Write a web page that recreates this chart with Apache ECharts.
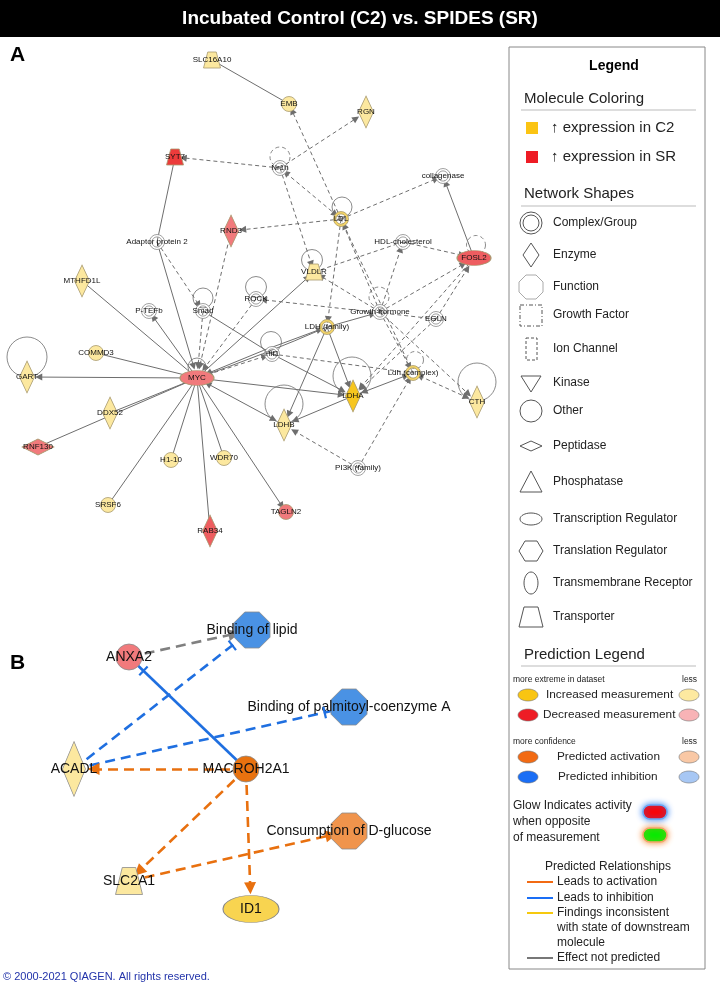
<!DOCTYPE html>
<html><head><meta charset="utf-8">
<script src="https://cdn.jsdelivr.net/npm/echarts@6/dist/echarts.min.js"></script>
<style>html,body{margin:0;padding:0;background:#fff}#c{width:720px;height:991px}</style>
</head><body><div id="c"></div>
<script>
// ---------------- DATA ----------------
const titleText = 'Incubated Control (C2) vs. SPIDES (SR)';
// Panel A nodes
const nodesA = ['SLC16A10','EMB','RGN','SYT7','Nr1h','collagenase','LDL','RND3','Adaptor protein 2','HDL-cholesterol','FOSL2','MTHFD1L','VLDLR','ROCK','P-TEFb','Smad','Growth hormone','EGLN','LDH (family)','Hif1','COMMD3','GART','MYC','Ldh (complex)','LDHA','CTH','DDX52','LDHB','RNF130','H1-10','WDR70','PI3K (family)','SRSF6','TAGLN2','RAB34'];
const nodesAX = [212,289,366,175,280,443,341,231,157,403,474,82,314,256,149,203,380,436,327,272,96,27,197,413,353,477,110,284,38,171,224,358,108,286,210];
const nodesAY = [60,104,112,157,168,176,219,231,242,242,258,281,272,299,311,311,312,319,327,354,353,377,378,373,396,402,413,425,447,460,458,468,505,512,531];
const nodesAType = ['transporter','other','enzyme','transporter','complex','complex','complex','enzyme','complex','complex','tr','enzyme','transporter','complex','complex','complex','complex','complex','complex','complex','other','enzyme','tr','complex','enzyme','enzyme','enzyme','enzyme','peptidase','other','other','complex','other','other','enzyme'];
const nodesALevel = ['up1','up1','up1','dn3','none','none','up2','dn1','none','none','dn2','up1','up1','none','none','none','none','none','up2','none','up1','up1','dn1','up2','up3','up1','up1','up1','dn1','up1','up1','none','up1','dn1','dn2'];
// Panel A edges: [source, target, dashed?, arrow (0 none, 1 at target, 2 both)]
const edgesA = [
 ['SLC16A10','EMB',0,0],['LDL','EMB',1,1],['Nr1h','RGN',1,1],['Nr1h','SYT7',1,1],['Nr1h','LDL',1,2],
 ['LDL','collagenase',1,1],['LDL','RND3',1,1],['FOSL2','collagenase',0,1],['SYT7','Adaptor protein 2',0,0],
 ['Nr1h','VLDLR',1,1],['LDL','LDH (family)',1,1],['Ldh (complex)','LDL',1,1],['Growth hormone','LDL',1,0],
 ['Adaptor protein 2','MYC',0,1],['Adaptor protein 2','Smad',1,1],['Smad','MYC',1,1],['RND3','MYC',1,1],['ROCK','MYC',1,1],
 ['MYC','MTHFD1L',0,0],['MYC','P-TEFb',0,1],['MYC','VLDLR',0,1],['Smad','Hif1',0,0],['Hif1','MYC',1,2],
 ['MYC','LDH (family)',0,2],['LDH (family)','MYC',0,0],['MYC','LDHA',0,1],['MYC','LDHB',0,2],['MYC','GART',0,1],
 ['COMMD3','MYC',0,0],['MYC','DDX52',0,0],['MYC','RNF130',0,0],['MYC','H1-10',0,0],['MYC','WDR70',0,0],
 ['MYC','SRSF6',0,0],['MYC','RAB34',0,0],['MYC','TAGLN2',0,1],
 ['EGLN','ROCK',1,1],['Growth hormone','VLDLR',1,1],['VLDLR','HDL-cholesterol',1,0],['HDL-cholesterol','FOSL2',1,1],
 ['Growth hormone','HDL-cholesterol',1,1],['Growth hormone','FOSL2',1,1],['EGLN','FOSL2',1,1],['EGLN','LDHA',1,1],
 ['LDH (family)','Growth hormone',0,1],['LDH (family)','LDHA',0,1],['LDH (family)','LDHB',0,1],['Hif1','LDHA',0,1],
 ['Hif1','Ldh (complex)',1,0],['LDHA','LDHB',0,1],['LDHA','Ldh (complex)',0,2],['PI3K (family)','LDHB',1,1],
 ['PI3K (family)','Ldh (complex)',1,1],['Growth hormone','Ldh (complex)',1,1],['Ldh (complex)','CTH',1,2],
 ['Growth hormone','CTH',1,1],['FOSL2','LDHA',1,1]
];
// Self loops: [node, diameter, offsetX, offsetY, dashed]
const loopsA = [
 ['GART',40,0,-20,0],['MYC',18,0,-11,0],['Nr1h',20,0,-11,1],['LDL',20,1,-12,0],['FOSL2',19,2,-13,1],
 ['VLDLR',21,-2,-12,0],['ROCK',21,0,-12,0],['Smad',20,0,-13,0],['Hif1',21,-1,-12,0],['LDHA',38,-1,-20,0],
 ['LDHB',38,0,-21,0],['Growth hormone',20,-1,-15,1],['Ldh (complex)',17,2,-13,1],['CTH',38,0,-20,0]
];
// Panel B nodes
const nodesB = ['Binding of lipid','ANXA2','Binding of palmitoyl-coenzyme A','ACADL','MACROH2A1','Consumption of D-glucose','SLC2A1','ID1'];
const nodesBX = [252,129,349,74,246,349,129,251];
const nodesBY = [630,657,707,769,769,831,881,909];
const nodesBType = ['function','other','function','enzyme','other','function','transporter','tr'];
const nodesBLevel = ['inh','dn1','inh','up1','act','act2','up1','up2b'];
// Panel B edges: [source, target, kind, dashed?]
const edgesB = [
 ['ANXA2','Binding of lipid','gray',1],['MACROH2A1','ANXA2','inh',0],['ACADL','Binding of lipid','inh',1],
 ['ACADL','Binding of palmitoyl-coenzyme A','inh',1],['MACROH2A1','ACADL','act',1],['MACROH2A1','SLC2A1','act',1],
 ['MACROH2A1','ID1','act',1],['SLC2A1','Consumption of D-glucose','act',1]
];
// Legend texts
const moleculeColoring = ['↑ expression in C2','↑ expression in SR'];
const shapeLabels = ['Complex/Group','Enzyme','Function','Growth Factor','Ion Channel','Kinase','Other','Peptidase','Phosphatase','Transcription Regulator','Translation Regulator','Transmembrane Receptor','Transporter'];
const predLabels = ['Increased measurement','Decreased measurement','Predicted activation','Predicted inhibition'];
const relLabels = ['Leads to activation','Leads to inhibition','Findings inconsistent','with state of downstream','molecule','Effect not predicted'];

// ---------------- STYLES ----------------
const FONT = '"Liberation Sans", Arial, sans-serif';
const COLORS = {none:'#ffffff', up1:'#fce89f', up2:'#f5d565', up3:'#f7c61e', dn1:'#f17a7c', dn2:'#ee5d60', dn3:'#ec3b3b',
  inh:'#4a92e4', act:'#e8720f', act2:'#f0944c', up2b:'#f8d450'};
const P = {
  complex:'path://M50,0 A50,50 0 1,1 49.9,0 Z M50,16 A34,34 0 1,0 50.1,16 Z',
  transporter:'path://M25,0 L75,0 L100,100 L0,100 Z',
  octagon:'path://M30,0 L70,0 L100,30 L100,70 L70,100 L30,100 L0,70 L0,30 Z',
  ellipse:'path://M0,50 A50,50 0 1,1 100,50 A50,50 0 1,1 0,50 Z'
};
const SIZE_A = {other:[15,15], complex:[15,15], enzyme:[15,32], transporter:[17,16], tr:[34,15], peptidase:[32,16]};
const SIZE_B = {other:[26,26], function:[36,36], enzyme:[23,55], transporter:[27,27], tr:[56,27]};
function sym(type){
  if (type==='complex') return P.complex;
  if (type==='transporter') return P.transporter;
  if (type==='function') return P.octagon;
  if (type==='tr') return P.ellipse;
  if (type==='enzyme' || type==='peptidase') return 'diamond';
  return 'circle';
}
const nodeDataA = nodesA.map((n,i)=>({
  name:n, value:[nodesAX[i], nodesAY[i]], symbol:sym(nodesAType[i]), symbolSize:SIZE_A[nodesAType[i]],
  itemStyle:{color:COLORS[nodesALevel[i]], borderColor: nodesALevel[i]==='none' ? '#8a8a8a' : '#a89a70', borderWidth:0.8}
}));
const linkDataA = edgesA.map(e=>{
  const ah = 'triangle';
  return {source:e[0], target:e[1],
    symbol:[e[3]===2?ah:'none', e[3]>=1?ah:'none'], symbolSize:[7,7],
    lineStyle:{color:'#6e6e6e', width:1, type: e[2] ? [4,3] : 'solid', curveness: (e[0]==='LDH (family)'&&e[1]==='MYC')?0.02:((e[0]==='MYC'&&e[1]==='LDH (family)')?0.02:0), opacity:1}};
});
const nodeDataB = nodesB.map((n,i)=>({
  name:n, value:[nodesBX[i], nodesBY[i]], symbol:sym(nodesBType[i]), symbolSize:SIZE_B[nodesBType[i]],
  itemStyle:{color:COLORS[nodesBLevel[i]], borderColor:'#8a8a8a', borderWidth:0.8}
}));
const KIND = {gray:'#808080', inh:'#1f6fe0', act:'#e8700f'};
const linkDataB = edgesB.map(e=>({
  source:e[0], target:e[1],
  symbol:['none', e[2]==='inh' ? 'none' : 'triangle'], symbolSize:[10, 12],
  lineStyle:{color:KIND[e[2]], width:2.6, type: e[3] ? [10,6] : 'solid', opacity:1}
}));
// inhibition bars: endpoints taken from the panel B node arrays
const tbarData = edgesB.filter(e=>e[2]==='inh').map(e=>{
  const s = nodesB.indexOf(e[0]), t = nodesB.indexOf(e[1]);
  const sz = SIZE_B[nodesBType[t]];
  return [nodesBX[s], nodesBY[s], nodesBX[t], nodesBY[t], (sz[0]+sz[1])/4 + 7];
});
const loopData = loopsA.map(l=>{
  const i = nodesA.indexOf(l[0]);
  return {value:[nodesAX[i], nodesAY[i]], symbolSize:l[1], symbolOffset:[l[2], l[3]],
    itemStyle:{color:'rgba(0,0,0,0)', borderColor:'#6e6e6e', borderWidth:1, borderType: l[4]?[4,3]:'solid'}};
});

// ---------------- LEGEND GRAPHICS ----------------
const G = [];
const txt = (x,y,t,fs,opt)=>G.push(Object.assign({type:'text', x, y, silent:true, style:Object.assign({text:t, font:`${fs}px ${FONT}`, fill:'#222', textVerticalAlign:'middle'}, opt||{})}));
// title bar
G.push({type:'rect', shape:{x:0,y:0,width:720,height:37}, style:{fill:'#000'}});
G.push({type:'text', x:360, y:19, style:{text:titleText, font:`bold 19px "Liberation Sans Narrow", "Liberation Sans", sans-serif`, fill:'#fff', textAlign:'center', textVerticalAlign:'middle'}});
txt(10,55,'A',21,{font:`bold 21px ${FONT}`, fill:'#000'});
txt(10,663,'B',21,{font:`bold 21px ${FONT}`, fill:'#000'});
txt(3,977,'© 2000-2021 QIAGEN. All rights reserved.',11,{fill:'#2233aa'});
// legend box
G.push({type:'rect', shape:{x:509,y:47,width:196,height:922}, style:{fill:'#fff', stroke:'#888', lineWidth:1}, z:-1});
txt(614,66,'Legend',14,{font:`bold 14px ${FONT}`, textAlign:'center', fill:'#000'});
txt(524,99,'Molecule Coloring',15);
G.push({type:'line', shape:{x1:521,y1:110,x2:696,y2:110}, style:{stroke:'#bbb', lineWidth:1}});
G.push({type:'rect', shape:{x:526,y:122,width:12,height:12}, style:{fill:'#fbc413'}});
G.push({type:'rect', shape:{x:526,y:151,width:12,height:12}, style:{fill:'#ee1c25'}});
txt(551,128,moleculeColoring[0],15);
txt(551,157,moleculeColoring[1],15);
txt(524,194,'Network Shapes',15);
G.push({type:'line', shape:{x1:521,y1:206,x2:696,y2:206}, style:{stroke:'#bbb', lineWidth:1}});
const shapeY = [223,255,287,315,349,383,411,446,482,519,551,583,617];
shapeLabels.forEach((s,i)=>txt(553, shapeY[i], s, 12));
const cx = 531, SK = {fill:'#fff', stroke:'#555', lineWidth:1};
G.push({type:'circle', shape:{cx, cy:223, r:11}, style:SK});
G.push({type:'circle', shape:{cx, cy:223, r:8}, style:SK});
G.push({type:'polygon', shape:{points:[[cx,243],[cx+8,255],[cx,267],[cx-8,255]]}, style:SK});
G.push({type:'polygon', shape:{points:[[cx-5,275],[cx+5,275],[cx+12,282],[cx+12,292],[cx+5,299],[cx-5,299],[cx-12,292],[cx-12,282]]}, style:{fill:'#fff', stroke:'#aaa', lineWidth:1}});
G.push({type:'rect', shape:{x:cx-11,y:305,width:22,height:21}, style:{fill:'#fff', stroke:'#555', lineWidth:1, lineDash:[4,2,1,2]}});
G.push({type:'rect', shape:{x:cx-5,y:338,width:11,height:22}, style:{fill:'#fff', stroke:'#555', lineWidth:1, lineDash:[3,2]}});
G.push({type:'polygon', shape:{points:[[cx-10,376],[cx+10,376],[cx,392]]}, style:SK});
G.push({type:'circle', shape:{cx, cy:411, r:11}, style:SK});
G.push({type:'polygon', shape:{points:[[cx-11,446],[cx,441],[cx+11,446],[cx,451]]}, style:SK});
G.push({type:'polygon', shape:{points:[[cx,471],[cx+11,492],[cx-11,492]]}, style:SK});
G.push({type:'ellipse', shape:{cx, cy:519, rx:11, ry:6}, style:SK});
G.push({type:'polygon', shape:{points:[[cx-6,541],[cx+6,541],[cx+12,551],[cx+6,561],[cx-6,561],[cx-12,551]]}, style:SK});
G.push({type:'ellipse', shape:{cx, cy:583, rx:7, ry:11}, style:SK});
G.push({type:'polygon', shape:{points:[[cx-7,607],[cx+7,607],[cx+12,627],[cx-12,627]]}, style:SK});
txt(524,655,'Prediction Legend',15);
G.push({type:'line', shape:{x1:521,y1:666,x2:696,y2:666}, style:{stroke:'#bbb', lineWidth:1}});
txt(513,680,'more extreme in dataset',8.5);
txt(682,680,'less',8.5);
txt(513,742,'more confidence',8.5);
txt(682,742,'less',8.5);
const predY = [695,715,757,777];
const predX = [546,543,557,558];
const predMore = ['#f9c512','#ee1c25','#f26a13','#1a6ef5'];
const predLess = ['#fde9a0','#f8b3b6','#f9c8a5','#a7c7f4'];
predLabels.forEach((s,i)=>{
  txt(predX[i], predY[i], s, 11.8);
  G.push({type:'ellipse', shape:{cx:528, cy:predY[i], rx:10, ry:6}, style:{fill:predMore[i], stroke:'#777', lineWidth:0.6}});
  G.push({type:'ellipse', shape:{cx:689, cy:predY[i], rx:10, ry:6}, style:{fill:predLess[i], stroke:'#777', lineWidth:0.6}});
});
txt(513,806,'Glow Indicates activity',12);
txt(513,822,'when opposite',12);
txt(513,838,'of measurement',12);
G.push({type:'rect', shape:{x:643,y:805,width:24,height:14,r:7}, style:{fill:'#ff0000', shadowBlur:6, shadowColor:'#2d7ff0', stroke:'#6aa8f5', lineWidth:1.5}});
G.push({type:'rect', shape:{x:643,y:828,width:24,height:14,r:7}, style:{fill:'#00ee00', shadowBlur:6, shadowColor:'#f08a3a', stroke:'#f4a66a', lineWidth:1.5}});
txt(608,867,'Predicted Relationships',12,{textAlign:'center'});
const relY = [882,898,913,928,943,958];
const relColor = ['#f26a13','#1a6ef5','#f6c90e',null,null,'#777'];
relLabels.forEach((s,i)=>{
  txt(557, relY[i], s, 12);
  if (relColor[i]) G.push({type:'line', shape:{x1:527,y1:relY[i],x2:553,y2:relY[i]}, style:{stroke:relColor[i], lineWidth:2}});
});

// ---------------- CHART ----------------
const chart = echarts.init(document.getElementById('c'));
chart.setOption({
  animation:false,
  backgroundColor:'#fff',
  grid:{left:0, right:0, top:0, bottom:0},
  xAxis:{type:'value', min:0, max:720, show:false},
  yAxis:{type:'value', min:0, max:991, inverse:true, show:false},
  graphic:G,
  series:[
    {type:'scatter', coordinateSystem:'cartesian2d', symbol:'circle', data:loopData, z:1, silent:true},
    {type:'graph', coordinateSystem:'cartesian2d', layout:'none', z:2, silent:true,
      data:nodeDataA, links:linkDataA,
      label:{show:true, position:'inside', color:'#111', fontSize:8, fontFamily:FONT},
      emphasis:{disabled:true}},
    {type:'graph', coordinateSystem:'cartesian2d', layout:'none', z:2, silent:true,
      data:nodeDataB, links:linkDataB,
      label:{show:true, position:'inside', color:'#111', fontSize:14, fontFamily:FONT},
      emphasis:{disabled:true}},
    {type:'custom', coordinateSystem:'cartesian2d', z:3, silent:true, data:tbarData,
      encode:{x:[0,2], y:[1,3]},
      renderItem:function(params, api){
        const s = api.coord([api.value(0), api.value(1)]);
        const t = api.coord([api.value(2), api.value(3)]);
        const r = api.value(4);
        const dx = t[0]-s[0], dy = t[1]-s[1], L = Math.hypot(dx, dy), ux = dx/L, uy = dy/L;
        const ex = t[0]-ux*r, ey = t[1]-uy*r, h = 6;
        return {type:'line', shape:{x1:ex-uy*h, y1:ey+ux*h, x2:ex+uy*h, y2:ey-ux*h},
          style:{stroke:'#1f6fe0', lineWidth:2.2}};
      }}
  ]
});
</script></body></html>
